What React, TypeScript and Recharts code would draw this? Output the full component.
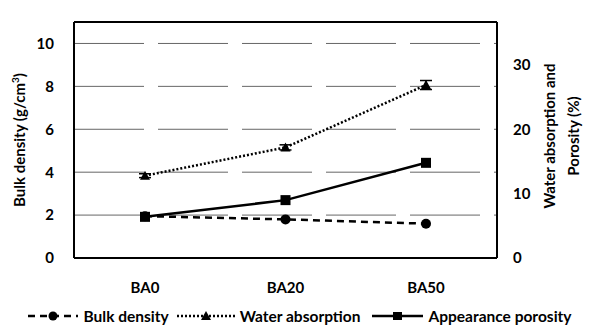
import React from 'react'
import { CartesianGrid, ErrorBar, Legend, Line, LineChart, ReferenceLine, XAxis, YAxis } from 'recharts';

const categories = ['BA0', 'BA20', 'BA50'];
const bulkDensity = [1.95, 1.8, 1.6];
const waterAbsorption = [12.8, 17.2, 26.9];
const waterAbsorptionErr = [0.3, 0.4, 0.7];
const appearancePorosity = [6.4, 9.0, 14.8];
const leftTicks = [0, 2, 4, 6, 8, 10];
const rightTicks = [0, 10, 20, 30];

const data = categories.map((name, i) => ({
    name,
    bulk: bulkDensity[i],
    water: waterAbsorption[i],
    waterErr: waterAbsorptionErr[i],
    porosity: appearancePorosity[i],
}));

const font = 'Lato, "Open Sans", sans-serif';

const CircleDot = (props: any) => {
    const { cx, cy, index } = props;
    return <circle key={'c' + index} cx={cx} cy={cy} r={5} fill="#000" />;
};
const TriangleDot = (props: any) => {
    const { cx, cy, index } = props;
    return <path key={'t' + index} d={`M${cx},${cy - 5} L${cx + 5},${cy + 4} L${cx - 5},${cy + 4} Z`} fill="#000" />;
};
const SquareDot = (props: any) => {
    const { cx, cy, index } = props;
    return <rect key={'s' + index} x={cx - 5} y={cy - 5} width={10} height={10} fill="#000" />;
};

const LegendContent = () => {
    const item = (dash: string | undefined, marker: React.ReactNode, label: string, w: number, gap: number) => (
        <div style={{ display: 'flex', alignItems: 'center', marginRight: gap, flexShrink: 0, whiteSpace: 'nowrap' }}>
            <svg width={w} height={14}>
                <line x1={0} y1={7} x2={w} y2={7} stroke="#000" strokeWidth={2.5} strokeDasharray={dash} />
                {marker}
            </svg>
            <span style={{ marginLeft: 5, fontSize: 15.5, fontWeight: 700, fontFamily: font, color: '#000', lineHeight: '18px' }}>{label}</span>
        </div>
    );
    return (
        <div style={{ display: 'flex', justifyContent: 'center', marginTop: 15, width: 580, marginLeft: 2 }}>
            {item('7 5', <circle cx={25} cy={7} r={4.5} fill="#000" />, 'Bulk density', 50, 8)}
            {item('2 2', <path d="M29,2 L34,11 L24,11 Z" fill="#000" />, 'Water absorption', 58, 12)}
            {item(undefined, <rect x={21} y={3} width={9} height={8} fill="#000" />, 'Appearance porosity', 51, 0)}
        </div>
    );
};

const LeftLabel = () => {
    const x = 17;
    const y = 132;
    return (
        <text transform={`rotate(-90, ${x}, ${y})`} x={x} y={y} textAnchor="middle" fontSize={15} fontWeight={700} fontFamily={font} fill="#000">
            Bulk density (g/cm<tspan dy={-6} fontSize={10}>3</tspan><tspan dy={6}>)</tspan>
        </text>
    );
};

const RightLabel = () => {
    const x = 547;
    const y = 128;
    return (
        <text transform={`rotate(-90, ${x}, ${y})`} x={x} y={y} textAnchor="middle" fontSize={15} fontWeight={700} fontFamily={font} fill="#000">
            <tspan x={x} dy={0}>Water absorption and</tspan>
            <tspan x={x} dy={24}>Porosity (%)</tspan>
        </text>
    );
};

const tickStyle = { fill: '#000', fontSize: 15, fontWeight: 700, fontFamily: font };

const App = () => {
    return (
        <LineChart width={580} height={322} data={data} margin={{ top: 14, right: 31, left: 0, bottom: 0 }}>
            <CartesianGrid yAxisId="left" vertical={false} stroke="#666" strokeDasharray="70 14" />
            <XAxis dataKey="name" padding={{ left: 71, right: 71 }} axisLine={{ stroke: '#000', strokeWidth: 2 }} tickLine={false}
                tick={tickStyle} tickMargin={18} height={34} />
            <YAxis yAxisId="left" domain={[0, 11]} ticks={leftTicks} width={66} axisLine={{ stroke: '#000', strokeWidth: 2 }}
                tickLine={false} tickMargin={14} tick={tickStyle} label={<LeftLabel />} />
            <YAxis yAxisId="right" orientation="right" domain={[0, 36.7]} ticks={rightTicks} width={60}
                axisLine={{ stroke: '#000', strokeWidth: 2 }} tickLine={false} tickMargin={10}
                tick={tickStyle} label={<RightLabel />} />
            <ReferenceLine yAxisId="left" y={11} stroke="#000" strokeWidth={2} />
            <Legend verticalAlign="bottom" height={38} wrapperStyle={{ width: 580, left: 0 }} content={<LegendContent />} />
            <Line yAxisId="left" dataKey="bulk" stroke="#000" strokeWidth={2.5} strokeDasharray="7 5" dot={<CircleDot />} isAnimationActive={false} />
            <Line yAxisId="right" dataKey="water" stroke="#000" strokeWidth={2.5} strokeDasharray="2 2" dot={<TriangleDot />} isAnimationActive={false}>
                <ErrorBar dataKey="waterErr" width={6} stroke="#000" strokeWidth={1.5} direction="y" />
            </Line>
            <Line yAxisId="right" dataKey="porosity" stroke="#000" strokeWidth={2.5} dot={<SquareDot />} isAnimationActive={false} />
        </LineChart>
    );
};

export default App;
